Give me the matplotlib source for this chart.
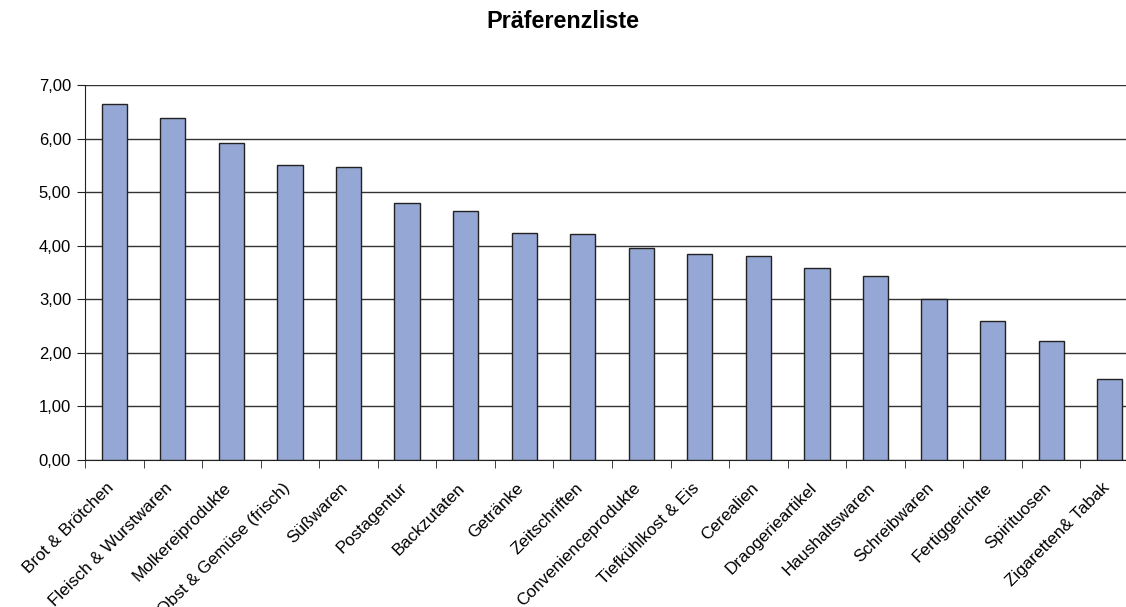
import matplotlib.pyplot as plt
import matplotlib.transforms as mtransforms
import numpy as np
from matplotlib.ticker import FuncFormatter, FixedLocator

plt.rcParams['font.family'] = ['Liberation Sans', 'DejaVu Sans']

categories = ["Brot & Brötchen", "Fleisch & Wurstwaren", "Molkereiprodukte",
              "Obst & Gemüse (frisch)", "Süßwaren", "Postagentur", "Backzutaten",
              "Getränke", "Zeitschriften", "Convenienceprodukte", "Tiefkühlkost & Eis",
              "Cerealien", "Draogerieartikel", "Haushaltswaren", "Schreibwaren",
              "Fertiggerichte", "Spirituosen", "Zigaretten& Tabak"]
values = [6.64, 6.39, 5.91, 5.50, 5.47, 4.79, 4.64, 4.23, 4.21, 3.96,
          3.85, 3.80, 3.58, 3.43, 3.00, 2.59, 2.22, 1.52]

fig = plt.figure(figsize=(11.26, 6.07), dpi=100)
ax = fig.add_axes([85 / 1126, 1 - 460 / 607, (1139 - 85) / 1126, (460 - 85) / 607])

x = np.arange(len(categories))
ax.bar(x, values, width=0.43, color="#95A7D5", edgecolor="#222222", linewidth=1.0, zorder=3)

ax.set_xlim(-0.5, len(categories) - 0.5)
ax.set_ylim(0, 7)
ax.set_yticks(np.arange(0, 8, 1))
ax.yaxis.set_major_formatter(FuncFormatter(lambda v, p: f"{v:.2f}".replace(".", ",")))
ax.yaxis.grid(True, color="#333333", linewidth=1.0, zorder=0)
ax.set_axisbelow(True)

ax.set_xticks(x)
ax.set_xticklabels(categories, rotation=45, ha="right", va="top", rotation_mode="anchor")
ax.tick_params(axis="x", which="major", length=0, pad=13, labelsize=12.3)
shift = mtransforms.ScaledTranslation(-8 / 100, -2 / 100, fig.dpi_scale_trans)
for lab in ax.get_xticklabels():
    lab.set_transform(lab.get_transform() + shift)
ax.xaxis.set_minor_locator(FixedLocator(np.arange(-0.5, len(categories), 1)))
ax.tick_params(axis="x", which="minor", length=6, direction="out", color="#222222")
ax.tick_params(axis="y", length=6, direction="out", color="#222222", labelsize=12, pad=4)

for s in ["top", "right"]:
    ax.spines[s].set_visible(False)
for s in ["left", "bottom"]:
    ax.spines[s].set_color("#222222")

fig.text(0.5, 1 - 22 / 607, "Präferenzliste", ha="center", va="center",
         fontsize=16.8, fontweight="bold")

fig.savefig("out.png", dpi=100)
